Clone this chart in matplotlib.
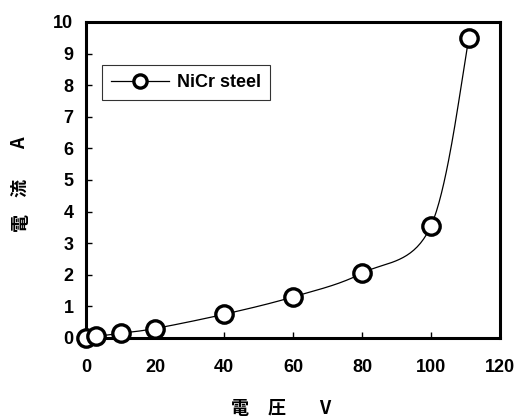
import numpy as np
import matplotlib
matplotlib.use("Agg")
import matplotlib.pyplot as plt
from matplotlib.lines import Line2D

voltage = [0, 3, 10, 20, 40, 60, 80, 100, 111]
current = [0.0, 0.05, 0.15, 0.3, 0.75, 1.3, 2.05, 3.55, 9.5]
series_name = "NiCr steel"
xticks = [0, 20, 40, 60, 80, 100, 120]
yticks = list(range(0, 11))
xlabel_parts = ["電", "圧", "V"]
ylabel_parts = ["電", "流", "A"]

plt.rcParams['font.family'] = ['Liberation Sans', 'Noto Sans CJK JP', 'DejaVu Sans']

W, H = 517, 417
fig = plt.figure(figsize=(W / 100, H / 100), dpi=100)
ax = fig.add_axes([86 / W, 1 - 338 / H, (500 - 86) / W, (338 - 22) / H])
xmin, xmax, ymin, ymax = 0, 120, 0, 10
ax.set_xlim(xmin, xmax)
ax.set_ylim(ymin, ymax)

# Catmull-Rom style smoothing (like a spreadsheet's smoothed line), in normalized space
x = np.array(voltage, float)
y = np.array(current, float)
sx = (xmax - xmin) / 414.0
sy = (ymax - ymin) / 316.0
P = np.column_stack([x / sx, y / sy])
pts = []
n = len(P)
for i in range(n - 1):
    p0 = P[i - 1] if i > 0 else P[i]
    p1 = P[i]
    p2 = P[i + 1]
    p3 = P[i + 2] if i + 2 < n else P[i + 1]
    c1 = p1 + (p2 - p0) / 6.0
    c2 = p2 - (p3 - p1) / 6.0
    t = np.linspace(0, 1, 40)[:, None]
    seg = (1 - t) ** 3 * p1 + 3 * (1 - t) ** 2 * t * c1 + 3 * (1 - t) * t ** 2 * c2 + t ** 3 * p2
    pts.append(seg)
curve = np.vstack(pts)
ax.plot(curve[:, 0] * sx, curve[:, 1] * sy, color='black', lw=0.9, zorder=2, clip_on=False)
ax.plot(x, y, linestyle='none', marker='o', markersize=12.5, markerfacecolor='white',
        markeredgecolor='black', markeredgewidth=2.4, zorder=3, clip_on=False)

for s in ax.spines.values():
    s.set_linewidth(2.2)
ax.set_xticks(xticks)
ax.set_yticks(yticks)
ax.tick_params(direction='in', length=4, width=1, labelsize=13)
ax.tick_params(axis='x', pad=15)
ax.tick_params(axis='y', pad=9)
for lab in ax.get_xticklabels() + ax.get_yticklabels():
    lab.set_fontweight('bold')

cjk = ['Noto Sans CJK JP', 'Liberation Sans']
for s, px in zip(xlabel_parts, [240, 277, 325]):
    fig.text(px / W, 1 - 408 / H, s, ha='center', va='center', fontsize=13,
             fontweight='bold', family=cjk)
for s, py in zip(ylabel_parts, [222, 188, 143]):
    fig.text(20 / W, 1 - py / H, s, ha='center', va='center', rotation=90, fontsize=13,
             fontweight='bold', family=cjk)

handle = Line2D([], [], color='black', lw=0.9, marker='o', markersize=9.5,
                markerfacecolor='white', markeredgecolor='black', markeredgewidth=2.4)
leg = ax.legend([handle], [series_name], loc='upper left',
                bbox_to_anchor=((102 - 86) / 414, 1 - (65 - 22) / 316), borderaxespad=0,
                frameon=True, fancybox=False, edgecolor='black', handlelength=3.2,
                handletextpad=0.45, prop={'weight': 'bold', 'size': 13}, borderpad=0.5)
leg.get_frame().set_linewidth(0.8)

fig.savefig("out.png", dpi=100)
